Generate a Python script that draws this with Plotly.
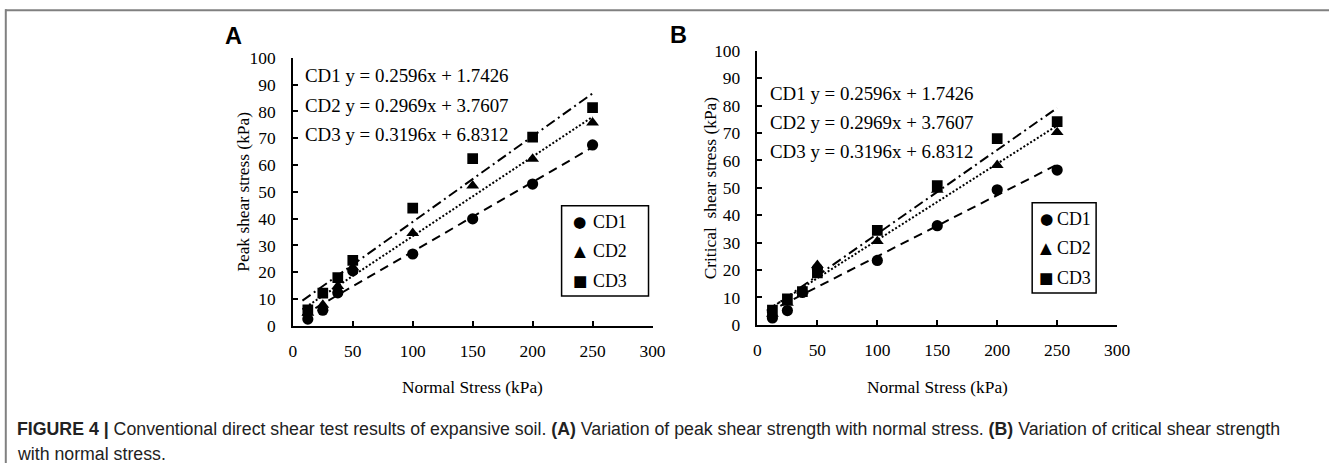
import numpy as np
import plotly.graph_objects as go

W, H = 1342, 473          # target picture size
OFF = 8                   # default page margin of the html body
SX = W / (W + 2 * OFF)    # page -> picture scale observed in the photographs
SY = H / (H + 2 * OFF)
FS = 1 / ((SX + SY) / 2)  # font compensation

# ---------------- data ----------------
normal_stress = [12.5, 25, 37.5, 50, 100, 150, 200, 250]
series_names = ["CD1", "CD2", "CD3"]

peak_cd1 = [2.5, 5.8, 12.3, 20.5, 26.8, 39.9, 52.9, 67.5]
peak_cd2 = [4.8, 7.8, 14.8, 21.8, 34.6, 52.3, 62.3, 75.8]
peak_cd3 = [6.0, 12.2, 18.0, 24.4, 43.9, 62.4, 70.4, 81.4]

crit_cd1 = [2.5, 5.2, 11.8, 20.5, 23.5, 36.2, 49.3, 56.5]
crit_cd2 = [4.0, 8.0, 12.5, 21.8, 30.5, 49.2, 58.3, 70.3]
crit_cd3 = [5.4, 9.5, 12.1, 19.0, 34.5, 50.8, 68.0, 74.2]

eq_slopes = [0.2596, 0.2969, 0.3196]
eq_intercepts = [1.7426, 3.7607, 6.8312]
eq_labels = ["CD1 y = 0.2596x + 1.7426",
             "CD2 y = 0.2969x + 3.7607",
             "CD3 y = 0.3196x + 6.8312"]
trend_x = [8, 250]

x_ticks = [0, 50, 100, 150, 200, 250, 300]
y_ticks = [0, 10, 20, 30, 40, 50, 60, 70, 80, 90, 100]

# ---------------- style ----------------
SERIF = "Liberation Serif"
SANS = "Liberation Sans"
symbols = ["circle", "triangle-up", "square"]
legend_glyphs = ["\u25cf", "\u25b2", "\u25a0"]
msizes = [11.2, 11.2, 10.7]
dashes = ["9px,6px", "2px,2px", "10px,4px,2px,4px"]


def px(x):
    return (x / SX - OFF) / W


def py(y):
    return 1 - (y / SY - OFF) / H


def f(size):
    return round(size * FS, 2)


fig = go.Figure()

crit_data = [crit_cd1, crit_cd2, crit_cd3]
crit_fit = [np.polyfit(normal_stress, d, 1) for d in crit_data]
panels = [
    dict(data=[peak_cd1, peak_cd2, peak_cd3], xa="x", ya="y",
         slopes=eq_slopes, intercepts=eq_intercepts),
    dict(data=crit_data, xa="x2", ya="y2",
         slopes=[c[0] for c in crit_fit], intercepts=[c[1] for c in crit_fit]),
]

for p in panels:
    for i, name in enumerate(series_names):
        tx = np.array(trend_x, dtype=float)
        fig.add_trace(go.Scatter(
            x=tx, y=p["slopes"][i] * tx + p["intercepts"][i],
            mode="lines", line=dict(color="black", width=2, dash=dashes[i]),
            xaxis=p["xa"], yaxis=p["ya"], showlegend=False, hoverinfo="skip"))
    for i, name in enumerate(series_names):
        fig.add_trace(go.Scatter(
            x=normal_stress, y=p["data"][i], mode="markers", name=name,
            marker=dict(symbol=symbols[i], size=msizes[i], color="black"),
            xaxis=p["xa"], yaxis=p["ya"], showlegend=False))

axis_common = dict(
    showline=True, linecolor="black", linewidth=1.5, mirror=False,
    ticks="inside", ticklen=5, tickwidth=1.5, tickcolor="black",
    showgrid=False, zeroline=False,
    tickfont=dict(family=SERIF, size=f(17), color="black"),
)

# pixel positions of plot areas (in the final picture)
A = dict(x0=297, x1=657, y0=57, y1=327)
B = dict(x0=762, x1=1122, y0=50, y1=326)

fig.update_layout(
    width=W, height=H,
    margin=dict(l=0, r=0, t=0, b=0),
    paper_bgcolor="white", plot_bgcolor="white",
    showlegend=False,
    xaxis=dict(domain=[px(A["x0"]), px(A["x1"])], range=[0, 300], tickvals=x_ticks,
               anchor="y", ticklabelstandoff=9, **axis_common),
    yaxis=dict(domain=[py(A["y1"]), py(A["y0"])], range=[0, 100], tickvals=y_ticks,
               anchor="x", ticklabelstandoff=12, **axis_common),
    xaxis2=dict(domain=[px(B["x0"]), px(B["x1"])], range=[0, 300], tickvals=x_ticks,
                anchor="y2", ticklabelstandoff=9, **axis_common),
    yaxis2=dict(domain=[py(B["y1"]), py(B["y0"])], range=[0, 100], tickvals=y_ticks,
                anchor="x2", ticklabelstandoff=12, **axis_common),
)

ann = []
# panel letters
ann.append(dict(text="<b>A</b>", x=px(238), y=py(35), font=dict(family=SANS, size=f(23), color="black")))
ann.append(dict(text="<b>B</b>", x=px(683), y=py(34), font=dict(family=SANS, size=f(23), color="black")))
# axis titles
ann.append(dict(text="Peak shear stress (kPa)", x=px(248), y=py(192), textangle=-90,
                font=dict(family=SERIF, size=f(17), color="black")))
ann.append(dict(text="Critical&nbsp; shear stress (kPa)", x=px(715), y=py(188), textangle=-90,
                font=dict(family=SERIF, size=f(17), color="black")))
ann.append(dict(text="Normal Stress (kPa)", x=px(477), y=py(389),
                font=dict(family=SERIF, size=f(17), color="black")))
ann.append(dict(text="Normal Stress (kPa)", x=px(942), y=py(389),
                font=dict(family=SERIF, size=f(17), color="black")))
# equations
for k, lab in enumerate(eq_labels):
    ann.append(dict(text=lab, x=px(307), y=py(75 + 29.5 * k), xanchor="left",
                    font=dict(family=SERIF, size=f(18.5), color="black")))
    ann.append(dict(text=lab, x=px(773), y=py(93 + 29 * k), xanchor="left",
                    font=dict(family=SERIF, size=f(18.5), color="black")))

# legends (box + symbol + label)
legend_boxes = [dict(x0=566, x1=653, y0=206, y1=297, sx=584, tx=595, rows=[222, 252, 282]),
                dict(x0=1037, x1=1101, y0=203, y1=294, sx=1051, tx=1060, rows=[219, 249, 279])]
shapes = []
for lb in legend_boxes:
    shapes.append(dict(type="rect", xref="paper", yref="paper",
                       x0=px(lb["x0"]), x1=px(lb["x1"]), y0=py(lb["y1"]), y1=py(lb["y0"]),
                       line=dict(color="black", width=1.5), fillcolor="white", layer="above"))
    for i, name in enumerate(series_names):
        ann.append(dict(text=legend_glyphs[i], x=px(lb["sx"]), y=py(lb["rows"][i]),
                        font=dict(family="DejaVu Sans", size=f(15), color="black")))
        ann.append(dict(text=name, x=px(lb["tx"]), y=py(lb["rows"][i]), xanchor="left",
                        font=dict(family=SERIF, size=f(17.5), color="black")))

# caption
ann.append(dict(
    text="<b>FIGURE 4 |</b> Conventional direct shear test results of expansive soil. "
         "<b>(A)</b> Variation of peak shear strength with normal stress. "
         "<b>(B)</b> Variation of critical shear strength",
    x=px(19), y=py(431), xanchor="left", font=dict(family=SANS, size=f(17.35), color="#222222")))
ann.append(dict(text="with normal stress.", x=px(19), y=py(456), xanchor="left",
                font=dict(family=SANS, size=f(17.35), color="#222222")))

for a in ann:
    a.setdefault("xanchor", "center")
    a.update(xref="paper", yref="paper", yanchor="middle", showarrow=False)
fig.update_layout(annotations=ann)

# figure frame (top and left rules)
shapes += [
    dict(type="line", xref="paper", yref="paper", x0=px(9), x1=1, y0=py(9), y1=py(9),
         line=dict(color="#808080", width=2)),
    dict(type="line", xref="paper", yref="paper", x0=px(9.7), x1=px(9.7), y0=py(8), y1=0,
         line=dict(color="#808080", width=2)),
]
fig.update_layout(shapes=shapes)

fig.write_html("out.html")
